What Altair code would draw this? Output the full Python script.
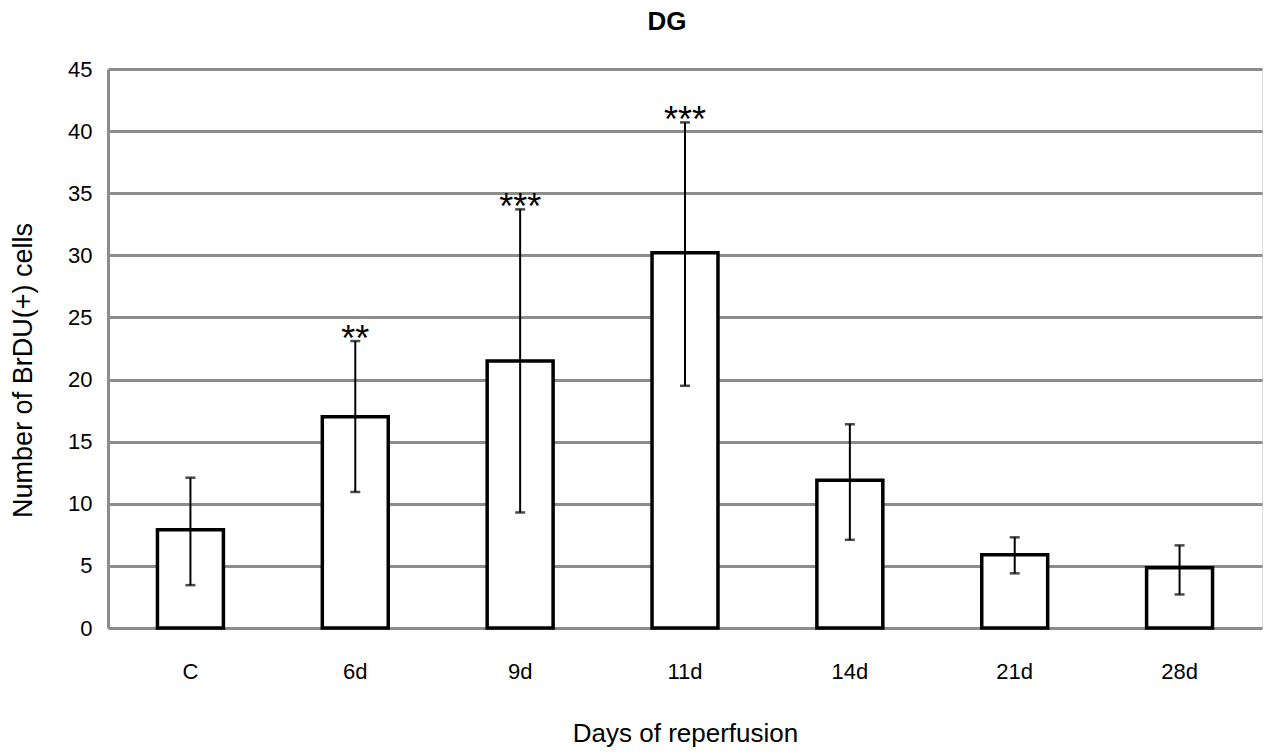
import altair as alt
import pandas as pd

categories = ["C", "6d", "9d", "11d", "14d", "21d", "28d"]
means = [7.9, 17.0, 21.5, 30.2, 11.9, 5.9, 4.85]
err_low = [3.45, 10.95, 9.3, 19.5, 7.1, 4.4, 2.7]
err_high = [12.1, 23.1, 33.7, 40.7, 16.4, 7.3, 6.65]
stars = ["", "**", "***", "***", "", "", ""]

df = pd.DataFrame({"cat": categories, "mean": means, "lo": err_low, "hi": err_high, "star": stars})

FONT = "Liberation Sans"
x_enc = alt.X("cat:N", sort=categories, title="Days of reperfusion",
              scale=alt.Scale(paddingInner=0, paddingOuter=0),
              axis=alt.Axis(labelAngle=0, labelFontSize=22, labelPadding=33, ticks=False,
                            domain=False, titleFontSize=26, titlePadding=38,
                            titleFontWeight="normal", labelColor="black", titleColor="black",
                            labelFont=FONT, titleFont=FONT))
y_enc = alt.Y("mean:Q", title="Number of BrDU(+) cells",
              scale=alt.Scale(domain=[0, 45], nice=False),
              axis=alt.Axis(values=list(range(0, 50, 5)), labelFontSize=22, labelPadding=16,
                            ticks=False, domain=True, domainColor="#8c8c8c", domainWidth=3,
                            grid=True, gridColor="#8c8c8c", gridWidth=3,
                            titleFontSize=27, titleFontWeight="normal",
                            titleX=-85, titleY=301, titleAngle=270, titleAlign="center",
                            titleBaseline="middle",
                            labelColor="black", titleColor="black",
                            labelFont=FONT, titleFont=FONT))

bars = alt.Chart(df).mark_bar(fill="white", stroke="black", strokeWidth=3.5,
                              width=alt.RelativeBandSize(0.4)).encode(x=x_enc, y=y_enc)
rules = alt.Chart(df).mark_rule(color="black", strokeWidth=2).encode(
    x=alt.X("cat:N", sort=categories), y="lo:Q", y2="hi:Q")
caps_lo = alt.Chart(df).mark_tick(color="black", size=10, thickness=2.5).encode(
    x=alt.X("cat:N", sort=categories), y="lo:Q")
caps_hi = alt.Chart(df).mark_tick(color="black", size=10, thickness=2.5).encode(
    x=alt.X("cat:N", sort=categories), y="hi:Q")
text = alt.Chart(df).mark_text(font=FONT, fontSize=36, baseline="alphabetic", dy=10,
                               color="black").encode(
    x=alt.X("cat:N", sort=categories), y="hi:Q", text="star:N")

chart = alt.layer(bars, rules, caps_lo, caps_hi, text).properties(
    width=1154, height=559,
    title=alt.TitleParams("DG", fontSize=26, fontWeight="bold", font=FONT, offset=23,
                          anchor="middle", color="black", dx=-18),
    autosize=alt.AutoSizeParams(type="none"),
    padding={"left": 108, "top": 69, "right": 5, "bottom": 128},
).configure_view(stroke=None).configure(background="white")

chart.save("out.html", embed_options={"renderer": "svg", "actions": False})
